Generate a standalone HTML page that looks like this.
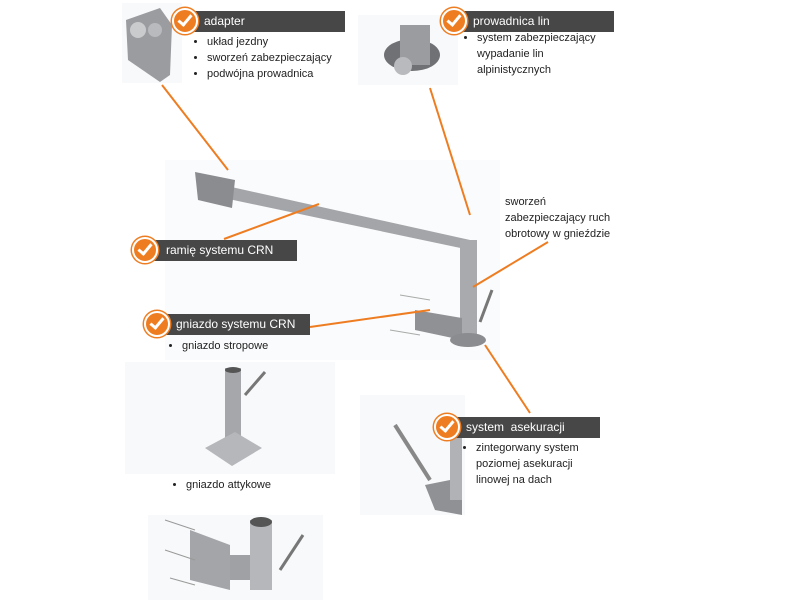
<!DOCTYPE html>
<html><head><meta charset="utf-8"><style>
body{margin:0;width:800px;height:600px;background:#fff;position:relative;overflow:hidden;font-family:"Liberation Sans",sans-serif;}
.bar{position:absolute;background:#474747;color:#fff;font-size:12px;line-height:21px;height:21px;padding-left:26px;box-sizing:border-box;}
.chk{position:absolute;width:22px;height:22px;border-radius:50%;background:#ee7d22;border:2px solid #fff;box-shadow:0 0 0 1.5px #ee7d22;}
.chk:after{content:"";position:absolute;left:7px;top:2px;width:5px;height:11px;border:solid #fff;border-width:0 3px 3px 0;transform:rotate(40deg);}
.t{position:absolute;font-size:11px;color:#222;line-height:16px;}
ul{margin:0;padding-left:14px;}
</style></head><body>
<svg width="800" height="600" style="position:absolute;left:0;top:0">
<rect x="122" y="3" width="60" height="80" fill="#f8f9fa"/>
<rect x="358" y="15" width="100" height="70" fill="#f8f9fa"/>
<rect x="165" y="160" width="335" height="200" fill="#fafbfc"/>
<rect x="125" y="362" width="210" height="112" fill="#f8f9fa"/>
<rect x="360" y="395" width="105" height="120" fill="#f8f9fa"/>
<rect x="148" y="515" width="175" height="85" fill="#f8f9fa"/>
<path d="M126 20 L160 8 L172 25 L170 75 L160 82 L128 60 Z" fill="#9a9c9f"/>
<circle cx="138" cy="30" r="8" fill="#c9cbcd"/><circle cx="155" cy="30" r="7" fill="#b8babd"/>
<ellipse cx="412" cy="55" rx="28" ry="16" fill="#6f7174"/>
<rect x="400" y="25" width="30" height="40" fill="#9a9c9f"/>
<ellipse cx="403" cy="66" rx="9" ry="9" fill="#b8babd"/>
<polygon points="200,180 470,240 470,250 205,194" fill="#a3a5a8"/>
<polygon points="195,172 235,180 232,208 198,200" fill="#8a8c8f"/>
<rect x="460" y="240" width="17" height="100" fill="#a8aaad"/>
<polygon points="415,310 462,318 462,340 415,330" fill="#8f9194"/>
<ellipse cx="468" cy="340" rx="18" ry="7" fill="#8a8c8f"/>
<line x1="480" y1="322" x2="492" y2="290" stroke="#777" stroke-width="3"/>
<line x1="400" y1="295" x2="430" y2="300" stroke="#aaa"/><line x1="390" y1="330" x2="420" y2="335" stroke="#aaa"/>
<rect x="225" y="368" width="16" height="70" fill="#a5a7aa"/>
<ellipse cx="233" cy="370" rx="8" ry="3" fill="#555"/>
<polygon points="205,448 235,432 262,448 232,466" fill="#b5b7ba"/>
<line x1="245" y1="395" x2="265" y2="372" stroke="#777" stroke-width="3"/>
<line x1="395" y1="425" x2="430" y2="480" stroke="#888" stroke-width="4"/>
<path d="M425 485 L450 480 L462 500 L462 515 L435 510 Z" fill="#8f9194"/>
<rect x="450" y="430" width="12" height="70" fill="#b0b2b5"/>
<polygon points="190,530 230,545 230,590 190,580" fill="#a3a5a8"/>
<rect x="230" y="555" width="30" height="25" fill="#9fa1a4"/>
<rect x="250" y="520" width="22" height="70" fill="#b5b7ba"/>
<ellipse cx="261" cy="522" rx="11" ry="5" fill="#555"/>
<line x1="280" y1="570" x2="303" y2="535" stroke="#777" stroke-width="3"/>
<line x1="165" y1="520" x2="195" y2="530" stroke="#999"/><line x1="165" y1="550" x2="195" y2="560" stroke="#999"/><line x1="170" y1="578" x2="195" y2="585" stroke="#999"/>
<g stroke="#ee7d22" stroke-width="2" fill="none">
<line x1="162" y1="85" x2="228" y2="170"/>
<line x1="430" y1="88" x2="470" y2="215"/>
<line x1="319" y1="204" x2="224" y2="239"/>
<line x1="310" y1="327" x2="430" y2="310"/>
<line x1="548" y1="242" x2="473" y2="287"/>
<line x1="485" y1="345" x2="530" y2="413"/>
</g>
</svg>
<div class="bar" style="left:178px;top:11px;width:167px">adapter</div><div class="chk" style="left:172px;top:8px"></div>
<div class="t" style="left:193px;top:34px"><ul><li>układ jezdny</li><li>sworzeń zabezpieczający</li><li>podwójna prowadnica</li></ul></div>
<div class="bar" style="left:447px;top:11px;width:167px">prowadnica lin</div><div class="chk" style="left:441px;top:8px"></div>
<div class="t" style="left:463px;top:30px"><ul><li>system zabezpieczający<br>wypadanie lin<br>alpinistycznych</li></ul></div>
<div class="t" style="left:505px;top:194px">sworzeń<br>zabezpieczający ruch<br>obrotowy w gnieździe</div>
<div class="bar" style="left:140px;top:240px;width:157px">ramię systemu CRN</div><div class="chk" style="left:132px;top:237px"></div>
<div class="bar" style="left:150px;top:314px;width:160px">gniazdo systemu CRN</div><div class="chk" style="left:144px;top:311px"></div>
<div class="t" style="left:168px;top:338px"><ul><li>gniazdo stropowe</li></ul></div>
<div class="t" style="left:172px;top:477px"><ul><li>gniazdo attykowe</li></ul></div>
<div class="bar" style="left:440px;top:417px;width:160px">system&nbsp; asekuracji</div><div class="chk" style="left:434px;top:414px"></div>
<div class="t" style="left:462px;top:440px"><ul><li>zintegorwany system<br>poziomej asekuracji<br>linowej na dach</li></ul></div>
</body></html>
